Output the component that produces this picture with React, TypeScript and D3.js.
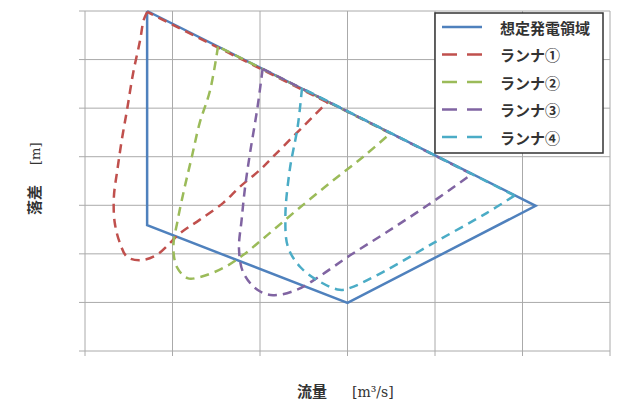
import * as d3 from "d3";

// Chart values in grid units (x: 0-6 columns, y: 0-7 rows)
const xTicks = [0, 1, 2, 3, 4, 5, 6];
const yTicks = [0, 1, 2, 3, 4, 5, 6, 7];

const envelope: [number, number][] = [
  [0.71, 7.0], [0.71, 2.59], [3.0, 0.99], [5.15, 2.99], [0.71, 7.0],
];

const runner1: [number, number][] = [
  [0.71, 6.98], [0.67, 6.81], [0.63, 6.4], [0.55, 5.72], [0.48, 4.96], [0.42, 4.34],
  [0.37, 3.73], [0.33, 3.17], [0.34, 2.64], [0.4, 2.22], [0.48, 1.94], [0.63, 1.87],
  [0.82, 1.98], [1.09, 2.43], [1.31, 2.7], [1.58, 3.05], [1.77, 3.38], [2.0, 3.73],
  [2.15, 4.0], [2.42, 4.49], [2.77, 5.12],
];

const runner2: [number, number][] = [
  [1.52, 6.27], [1.43, 5.37], [1.31, 4.69], [1.22, 3.99], [1.14, 3.38], [1.06, 2.7],
  [1.01, 2.14], [1.05, 1.73], [1.17, 1.5], [1.31, 1.52], [1.58, 1.71], [1.81, 1.98],
  [2.08, 2.38], [2.42, 2.9], [2.8, 3.46], [3.18, 4.0], [3.49, 4.48],
];

const runner3: [number, number][] = [
  [2.03, 5.81], [1.97, 5.0], [1.89, 4.12], [1.83, 3.38], [1.79, 2.7], [1.76, 2.1],
  [1.81, 1.61], [1.97, 1.26], [2.15, 1.15], [2.42, 1.26], [2.69, 1.55], [3.03, 1.97],
  [3.45, 2.45], [3.94, 3.03], [4.42, 3.64],
];

const runner4: [number, number][] = [
  [2.48, 5.41], [2.43, 4.61], [2.34, 3.73], [2.29, 2.76], [2.32, 2.14], [2.46, 1.73],
  [2.69, 1.42], [2.91, 1.26], [3.03, 1.3], [3.41, 1.63], [3.98, 2.22], [4.59, 2.84],
  [4.91, 3.2],
];

const seriesNames = ["想定発電領域", "ランナ①", "ランナ②", "ランナ③", "ランナ④"];
const seriesColors = ["#4f81bd", "#c0504d", "#9bbb59", "#8064a2", "#4bacc6"];
const runners = [runner1, runner2, runner3, runner4];

export default function App() {
  const width = 627;
  const height = 408;
  const marginLeft = 85;
  const marginRight = 17;
  const marginTop = 11;
  const marginBottom = 57;

  const x = d3.scaleLinear().domain([0, 6]).range([marginLeft, width - marginRight]);
  const y = d3.scaleLinear().domain([0, 7]).range([height - marginBottom, marginTop]);

  const straight = d3.line<[number, number]>().x(d => x(d[0])).y(d => y(d[1]));
  const smooth = d3
    .line<[number, number]>()
    .x(d => x(d[0]))
    .y(d => y(d[1]))
    .curve(d3.curveCatmullRom.alpha(0.5));

  const legendX = 435;
  const legendY = 13;
  const cjk = "'Noto Sans CJK JP', sans-serif";
  const serif = "'DejaVu Serif', 'Liberation Serif', serif";

  return (
    <svg
      width={width}
      height={height}
      style={{ position: "absolute", left: 0, top: 0, background: "#fff" }}
      fontFamily={cjk}
    >
      {/* grid */}
      <g stroke="#aaa" strokeWidth={1}>
        {xTicks.map(t => (
          <line key={"x" + t} x1={x(t)} x2={x(t)} y1={y(7)} y2={y(0) + 5} />
        ))}
        {yTicks.map(t => (
          <line key={"y" + t} x1={x(0) - 6} x2={x(6)} y1={y(t)} y2={y(t)} />
        ))}
      </g>

      {/* envelope */}
      <path d={straight(envelope) ?? ""} fill="none" stroke={seriesColors[0]} strokeWidth={2.5} />

      {/* runners */}
      {runners.map((r, i) => (
        <g key={i} fill="none" stroke={seriesColors[i + 1]} strokeWidth={2.5} strokeDasharray="9,6">
          <path d={smooth(r) ?? ""} />
          <path d={straight([r[r.length - 1], r[0]]) ?? ""} />
        </g>
      ))}

      {/* legend */}
      <rect x={legendX} y={legendY} width={168} height={140} fill="#fff" stroke="#333" strokeWidth={1.5} />
      {seriesNames.map((name, i) => {
        const ly = legendY + 14 + i * 27.5;
        return (
          <g key={name}>
            <line
              x1={legendX + 7}
              x2={legendX + 47}
              y1={ly}
              y2={ly}
              stroke={seriesColors[i]}
              strokeWidth={2.5}
              strokeDasharray={i === 0 ? undefined : "15,10"}
            />
            <text x={legendX + 65} y={ly} dominantBaseline="central" fontSize={15} fontWeight="bold" fill="#333">
              {name}
            </text>
          </g>
        );
      })}

      {/* axis titles */}
      <text x={297} y={397} fontSize={15} fontWeight="bold" fill="#333">
        流量
      </text>
      <text x={352} y={397} fontSize={14} fontFamily={serif} fill="#333">
        [m³/s]
      </text>
      <g transform="translate(40,0)">
        <text transform="translate(0,215) rotate(-90)" fontSize={15} fontWeight="bold" fill="#333">
          落差
        </text>
        <text transform="translate(0,165) rotate(-90)" fontSize={13} fontFamily={serif} fill="#333">
          [m]
        </text>
      </g>
    </svg>
  );
}
